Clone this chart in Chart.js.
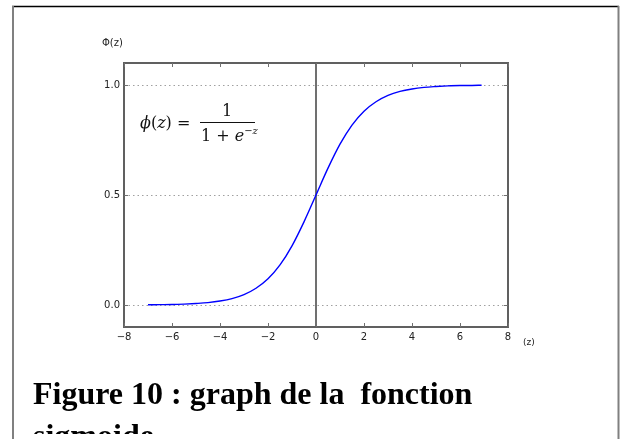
<!DOCTYPE html>
<html>
<head>
<meta charset="utf-8">
<script src="https://cdn.jsdelivr.net/npm/chart.js@4/dist/chart.umd.min.js"></script>
<style>
html,body{margin:0;padding:0;background:#fff;}
#wrap{width:627px;height:439px;position:relative;}
</style>
</head>
<body>
<div id="wrap"><canvas id="c" width="627" height="439"></canvas></div>
<script>
// z values and sigmoid values
const zValues = [-7,-6.5,-6,-5.5,-5,-4.5,-4,-3.5,-3,-2.5,-2,-1.5,-1,-0.5,0,0.5,1,1.5,2,2.5,3,3.5,4,4.5,5,5.5,6,6.5,6.9];
const phiValues = [0.001,0.0015,0.002,0.004,0.007,0.011,0.018,0.029,0.047,0.076,0.119,0.182,0.269,0.378,0.5,0.622,0.731,0.818,0.881,0.924,0.953,0.971,0.982,0.989,0.993,0.996,0.998,0.998,0.999];
const xTickValues = [-8,-6,-4,-2,0,2,4,6,8];
const yTickValues = [0.0,0.5,1.0];
const yAxisLabel = 'Φ(z)';
const xAxisLabel = '(z)';
const captionLine1 = 'Figure 10 : graph de la  fonction';
const captionLine2 = 'sigmoide';

const decor = {
  id: 'decor',
  beforeDraw(chart) {
    const ctx = chart.ctx;
    ctx.save();
    ctx.fillStyle = '#fff';
    ctx.fillRect(0, 0, chart.width, chart.height);
    // page border
    ctx.strokeStyle = '#000';
    ctx.lineWidth = 1.5;
    ctx.beginPath(); ctx.moveTo(12, 6.5); ctx.lineTo(619, 6.5); ctx.stroke();
    ctx.strokeStyle = '#808080';
    ctx.lineWidth = 2;
    ctx.beginPath(); ctx.moveTo(13, 6); ctx.lineTo(13, 439); ctx.stroke();
    ctx.beginPath(); ctx.moveTo(618.5, 6); ctx.lineTo(618.5, 439); ctx.stroke();
    ctx.restore();
  },
  beforeDatasetsDraw(chart) {
    const ctx = chart.ctx, a = chart.chartArea;
    const xs = chart.scales.x, ys = chart.scales.y;
    ctx.save();
    // dotted horizontal grid
    ctx.strokeStyle = '#a0a0a0';
    ctx.lineWidth = 1;
    ctx.setLineDash([1.5, 3]);
    yTickValues.forEach(v => {
      const y = Math.round(ys.getPixelForValue(v)) + 0.5;
      ctx.beginPath(); ctx.moveTo(a.left, y); ctx.lineTo(a.right, y); ctx.stroke();
    });
    ctx.setLineDash([]);
    // vertical line at z = 0
    const x0 = xs.getPixelForValue(0);
    ctx.strokeStyle = '#707070';
    ctx.lineWidth = 2;
    ctx.beginPath(); ctx.moveTo(x0, a.top); ctx.lineTo(x0, a.bottom); ctx.stroke();
    ctx.restore();
  },
  afterDraw(chart) {
    const ctx = chart.ctx, a = chart.chartArea;
    const xs = chart.scales.x, ys = chart.scales.y;
    ctx.save();
    // axes frame
    ctx.strokeStyle = '#606060';
    ctx.lineWidth = 2;
    ctx.strokeRect(a.left, a.top, a.right - a.left, a.bottom - a.top);
    // inward ticks
    ctx.lineWidth = 1;
    ctx.strokeStyle = '#707070';
    xTickValues.forEach(v => {
      const x = Math.round(xs.getPixelForValue(v)) + 0.5;
      ctx.beginPath(); ctx.moveTo(x, a.bottom); ctx.lineTo(x, a.bottom - 4); ctx.stroke();
      ctx.beginPath(); ctx.moveTo(x, a.top); ctx.lineTo(x, a.top + 4); ctx.stroke();
    });
    yTickValues.forEach(v => {
      const y = Math.round(ys.getPixelForValue(v)) + 0.5;
      ctx.beginPath(); ctx.moveTo(a.left, y); ctx.lineTo(a.left + 4, y); ctx.stroke();
      ctx.beginPath(); ctx.moveTo(a.right, y); ctx.lineTo(a.right - 4, y); ctx.stroke();
    });
    // axis labels
    ctx.fillStyle = '#222';
    ctx.font = '10px "DejaVu Sans"';
    ctx.textBaseline = 'middle';
    ctx.textAlign = 'left';
    ctx.fillText(yAxisLabel, 102, 43);
    ctx.font = '9px "DejaVu Sans"';
    ctx.fillText(xAxisLabel, 523, 343);
    // formula
    ctx.fillStyle = '#111';
    ctx.font = 'italic 16px "DejaVu Serif"';
    ctx.textBaseline = 'alphabetic';
    ctx.textAlign = 'left';
    let x = 140;
    const base = 128;
    ctx.fillText('ϕ', x, base); x += ctx.measureText('ϕ').width;
    ctx.font = '16px "DejaVu Serif"';
    ctx.fillText('(', x, base); x += ctx.measureText('(').width;
    ctx.font = 'italic 16px "DejaVu Serif"';
    ctx.fillText('z', x, base); x += ctx.measureText('z').width;
    ctx.font = '16px "DejaVu Serif"';
    ctx.fillText(') =', x, base);
    // fraction
    ctx.textAlign = 'center';
    ctx.fillText('1', 227, 116);
    ctx.strokeStyle = '#111';
    ctx.lineWidth = 1;
    ctx.beginPath(); ctx.moveTo(200, 122.5); ctx.lineTo(255, 122.5); ctx.stroke();
    ctx.textAlign = 'left';
    let dx = 201;
    const db = 141;
    ctx.fillText('1 + ', dx, db); dx += ctx.measureText('1 + ').width;
    ctx.font = 'italic 16px "DejaVu Serif"';
    ctx.fillText('e', dx, db); dx += ctx.measureText('e').width;
    ctx.font = '10px "DejaVu Serif"';
    ctx.fillText('−', dx, db - 7); dx += ctx.measureText('−').width;
    ctx.font = 'italic 10px "DejaVu Serif"';
    ctx.fillText('z', dx, db - 7);
    // caption
    ctx.fillStyle = '#000';
    ctx.font = 'bold 32px "Liberation Serif"';
    ctx.textAlign = 'left';
    ctx.fillText(captionLine1, 33, 404);
    ctx.beginPath(); ctx.rect(0, 0, chart.width, 434); ctx.clip();
    ctx.fillText(captionLine2, 33, 446);
    ctx.restore();
  }
};

new Chart(document.getElementById('c'), {
  type: 'line',
  data: {
    datasets: [{
      data: zValues.map((z, i) => ({x: z, y: phiValues[i]})),
      borderColor: '#0000ff',
      borderWidth: 1.4,
      pointRadius: 0,
      fill: false,
      cubicInterpolationMode: 'monotone'
    }]
  },
  options: {
    responsive: false,
    animation: false,
    events: [],
    layout: {padding: {left: 104, right: 119, top: 63, bottom: 92}},
    plugins: {legend: {display: false}, tooltip: {enabled: false}, title: {display: false}},
    scales: {
      x: {
        type: 'linear', min: -8, max: 8,
        afterBuildTicks: s => { s.ticks = xTickValues.map(v => ({value: v})); },
        afterFit: s => { s.height = 20; },
        grid: {display: false, drawTicks: false},
        border: {display: false},
        ticks: {
          padding: 4, color: '#222', maxRotation: 0, autoSkip: false,
          font: {family: 'DejaVu Sans', size: 10},
          callback: v => String(v).replace('-', '−')
        }
      },
      y: {
        type: 'linear', min: -0.1, max: 1.1,
        afterBuildTicks: s => { s.ticks = yTickValues.map(v => ({value: v})); },
        afterFit: s => { s.width = 20; },
        grid: {display: false, drawTicks: false},
        border: {display: false},
        ticks: {
          padding: 4, color: '#222', autoSkip: false,
          font: {family: 'DejaVu Sans', size: 10},
          callback: v => Number(v).toFixed(1)
        }
      }
    }
  },
  plugins: [decor]
});
</script>
</body>
</html>
